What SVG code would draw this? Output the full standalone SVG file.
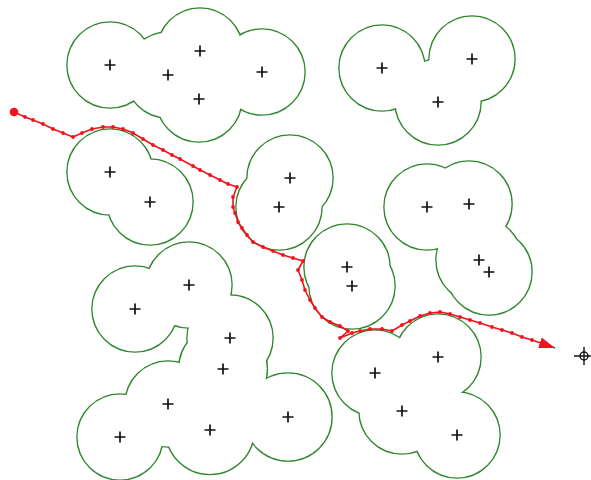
<svg xmlns="http://www.w3.org/2000/svg" xmlns:xlink="http://www.w3.org/1999/xlink" width="591" height="480" viewBox="0 0 591 480">
<style>
.ring{fill:none;stroke:#2f862f;stroke-width:2.6}
.blank{fill:#fff;stroke:none}
.plus{fill:none;stroke:#111;stroke-width:1.7}
.route{fill:none;stroke:#f2121c;stroke-width:1.6;stroke-linejoin:round}
.red{fill:#f2121c}
</style>
<defs>
<path id="p" class="plus" d="M-5.5,0H5.5M0,-5.5V5.5"/>
<marker id="dot" markerUnits="userSpaceOnUse" markerWidth="6" markerHeight="6" refX="3" refY="3" viewBox="0 0 6 6"><circle class="red" cx="3" cy="3" r="1.9"/></marker>
<marker id="start" markerUnits="userSpaceOnUse" markerWidth="10" markerHeight="10" refX="5" refY="5" viewBox="0 0 10 10"><circle class="red" cx="5" cy="5" r="4.3"/></marker>
<marker id="arrow" markerUnits="userSpaceOnUse" markerWidth="17" markerHeight="12" refX="16" refY="6" orient="auto" viewBox="0 0 17 12"><path class="red" d="M0,0.5 L16,6 L0,11.5 Z"/></marker>
</defs>
<rect width="591" height="480" fill="#fff"/>

<g id="cluster-a">
<circle class="ring" cx="110" cy="65" r="42.5"/><circle class="ring" cx="168" cy="75" r="42.5"/><circle class="ring" cx="200" cy="51" r="42.5"/><circle class="ring" cx="262" cy="72" r="42.5"/><circle class="ring" cx="199" cy="99" r="42.5"/>
<circle class="blank" cx="110" cy="65" r="42.5"/><circle class="blank" cx="168" cy="75" r="42.5"/><circle class="blank" cx="200" cy="51" r="42.5"/><circle class="blank" cx="262" cy="72" r="42.5"/><circle class="blank" cx="199" cy="99" r="42.5"/>
<use href="#p" x="110" y="65"/><use href="#p" x="168" y="75"/><use href="#p" x="200" y="51"/><use href="#p" x="262" y="72"/><use href="#p" x="199" y="99"/>
</g>

<g id="cluster-b">
<circle class="ring" cx="110" cy="172" r="42.5"/><circle class="ring" cx="150" cy="202" r="42.5"/>
<circle class="blank" cx="110" cy="172" r="42.5"/><circle class="blank" cx="150" cy="202" r="42.5"/>
<use href="#p" x="110" y="172"/><use href="#p" x="150" y="202"/>
</g>

<g id="cluster-c">
<circle class="ring" cx="290" cy="178" r="42.5"/><circle class="ring" cx="279" cy="207" r="42.5"/>
<circle class="blank" cx="290" cy="178" r="42.5"/><circle class="blank" cx="279" cy="207" r="42.5"/>
<use href="#p" x="290" y="178"/><use href="#p" x="279" y="207"/>
</g>

<g id="cluster-d">
<circle class="ring" cx="347" cy="267" r="42.5"/><circle class="ring" cx="352" cy="286" r="42.5"/>
<circle class="blank" cx="347" cy="267" r="42.5"/><circle class="blank" cx="352" cy="286" r="42.5"/>
<use href="#p" x="347" y="267"/><use href="#p" x="352" y="286"/>
</g>

<g id="cluster-e">
<circle class="ring" cx="382" cy="68" r="42.5"/><circle class="ring" cx="472" cy="59" r="42.5"/><circle class="ring" cx="438" cy="102" r="42.5"/>
<circle class="blank" cx="382" cy="68" r="42.5"/><circle class="blank" cx="472" cy="59" r="42.5"/><circle class="blank" cx="438" cy="102" r="42.5"/>
<use href="#p" x="382" y="68"/><use href="#p" x="472" y="59"/><use href="#p" x="438" y="102"/>
</g>

<g id="cluster-f">
<circle class="ring" cx="427" cy="207" r="42.5"/><circle class="ring" cx="469" cy="204" r="42.5"/><circle class="ring" cx="479" cy="260" r="42.5"/><circle class="ring" cx="489" cy="272" r="42.5"/>
<circle class="blank" cx="427" cy="207" r="42.5"/><circle class="blank" cx="469" cy="204" r="42.5"/><circle class="blank" cx="479" cy="260" r="42.5"/><circle class="blank" cx="489" cy="272" r="42.5"/>
<use href="#p" x="427" y="207"/><use href="#p" x="469" y="204"/><use href="#p" x="479" y="260"/><use href="#p" x="489" y="272"/>
</g>

<g id="cluster-g">
<circle class="ring" cx="135" cy="309" r="42.5"/><circle class="ring" cx="189" cy="285" r="42.5"/><circle class="ring" cx="230" cy="338" r="42.5"/><circle class="ring" cx="223" cy="369" r="43.8"/><circle class="ring" cx="168" cy="404" r="42.5"/><circle class="ring" cx="120" cy="437" r="42.5"/><circle class="ring" cx="210" cy="430" r="44"/><circle class="ring" cx="288" cy="417" r="43.5"/>
<circle class="blank" cx="135" cy="309" r="42.5"/><circle class="blank" cx="189" cy="285" r="42.5"/><circle class="blank" cx="230" cy="338" r="42.5"/><circle class="blank" cx="223" cy="369" r="43.8"/><circle class="blank" cx="168" cy="404" r="42.5"/><circle class="blank" cx="120" cy="437" r="42.5"/><circle class="blank" cx="210" cy="430" r="44"/><circle class="blank" cx="288" cy="417" r="43.5"/>
<use href="#p" x="135" y="309"/><use href="#p" x="189" y="285"/><use href="#p" x="230" y="338"/><use href="#p" x="223" y="369"/><use href="#p" x="168" y="404"/><use href="#p" x="120" y="437"/><use href="#p" x="210" y="430"/><use href="#p" x="288" y="417"/>
</g>

<g id="cluster-h">
<circle class="ring" cx="375" cy="373" r="42.5"/><circle class="ring" cx="438" cy="357" r="42.5"/><circle class="ring" cx="402" cy="411" r="42.5"/><circle class="ring" cx="457" cy="435" r="42.5"/>
<circle class="blank" cx="375" cy="373" r="42.5"/><circle class="blank" cx="438" cy="357" r="42.5"/><circle class="blank" cx="402" cy="411" r="42.5"/><circle class="blank" cx="457" cy="435" r="42.5"/>
<use href="#p" x="375" y="373"/><use href="#p" x="438" y="357"/><use href="#p" x="402" y="411"/><use href="#p" x="457" y="435"/>
</g>

<g id="target">
<circle cx="584" cy="356" r="4" fill="none" stroke="#111" stroke-width="1.4"/>
<path d="M574,356H594M584,347V365" fill="none" stroke="#111" stroke-width="1.4"/>
</g>

<g id="connectors">
<polyline class="route" marker-start="url(#start)" marker-mid="url(#dot)" marker-end="url(#arrow)" points="14,112 25,117 33,120 43,124 53,129 63,133 73,137 82,133 92,129 103,127 113,127 123,129 133,133 143,139 153,145 163,150 172,155 180,159 193,166 200,170 210,175 220,180 228,184 237,187 233,197 233,207 235,213 238,222 242,228 247,235 253,242 263,247 273,251 283,255 293,258 303,261 298,270 302,280 305,290 310,300 315,308 322,317 330,322 340,326 348,331 340,338 352,333 360,331 370,329 382,329 392,331 402,325 410,321 420,316 430,313 440,312 450,314 460,317 470,320 480,323 492,327 502,330 512,333 522,337 532,340 555,348"/>
</g>
</svg>
